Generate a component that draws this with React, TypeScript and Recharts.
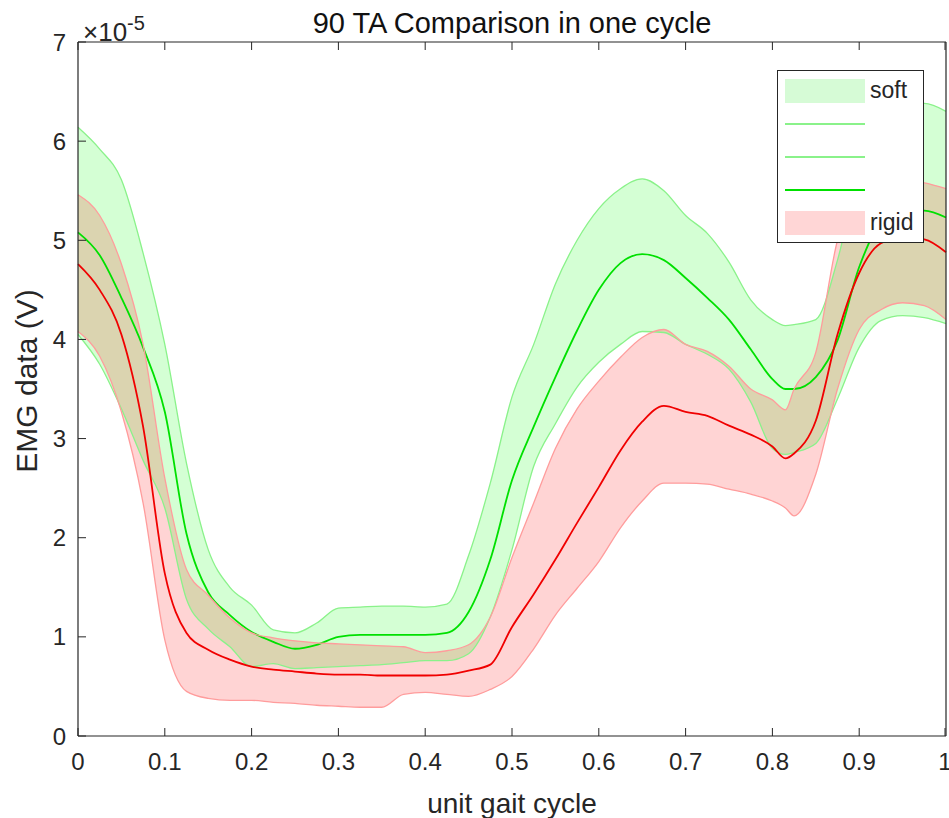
import React from 'react'
import { ComposedChart, Area, Line, XAxis, YAxis, Legend } from 'recharts'

// unit gait cycle (x) and EMG amplitude in units of 1e-5 V
const cycle = [
  0, 0.025, 0.05, 0.075, 0.1, 0.125, 0.15, 0.175, 0.2, 0.225, 0.25, 0.275, 0.3, 0.325, 0.35, 0.375, 0.4, 0.425, 0.45,
  0.475, 0.5, 0.525, 0.55, 0.575, 0.6, 0.625, 0.65, 0.675, 0.7, 0.725, 0.75, 0.775, 0.8, 0.815, 0.825, 0.85, 0.875,
  0.9, 0.925, 0.95, 0.975, 1,
]

const softUpper = [
  6.14, 5.92, 5.61, 4.87, 3.95, 2.75, 1.88, 1.5, 1.32, 1.07, 1.04, 1.14, 1.29, 1.3, 1.31, 1.31, 1.3, 1.33, 1.82, 2.55,
  3.42, 3.95, 4.56, 5.0, 5.32, 5.52, 5.62, 5.5, 5.25, 5.07, 4.78, 4.4, 4.2, 4.14, 4.15, 4.2, 4.8, 5.7, 6.2, 6.35, 6.38,
  6.3,
]
const softMean = [
  5.08, 4.85, 4.42, 3.92, 3.27, 2.04, 1.45, 1.22, 1.05, 0.95, 0.88, 0.92, 1.0, 1.02, 1.02, 1.02, 1.02, 1.04, 1.25, 1.78,
  2.58, 3.12, 3.62, 4.09, 4.5, 4.77, 4.86, 4.8, 4.62, 4.42, 4.2, 3.9, 3.6, 3.5, 3.5, 3.62, 3.99, 4.73, 5.17, 5.26, 5.3,
  5.23,
]
const softLower = [
  4.05, 3.75, 3.3, 2.78, 2.3, 1.38, 1.08, 0.9, 0.7, 0.73, 0.68, 0.69, 0.7, 0.71, 0.72, 0.74, 0.76, 0.76, 0.83, 1.2,
  1.88, 2.72, 3.15, 3.52, 3.77, 3.95, 4.08, 4.07, 3.95, 3.85, 3.7, 3.37, 2.9, 2.84, 2.86, 2.95, 3.4, 3.92, 4.19, 4.24,
  4.22, 4.16,
]

const rigidUpper = [
  5.46, 5.25, 4.76, 3.95, 2.6, 1.68, 1.42, 1.19, 1.04, 0.99, 0.96, 0.94, 0.93, 0.92, 0.91, 0.9, 0.84, 0.86, 0.92, 1.2,
  1.8, 2.35, 2.9, 3.3, 3.58, 3.82, 4.02, 4.1, 3.95, 3.88, 3.73, 3.5, 3.39, 3.29, 3.5, 3.87, 5.0, 5.5, 5.58, 5.6, 5.58,
  5.52,
]
const rigidMean = [
  4.76, 4.5, 4.05, 3.12, 1.64, 1.04, 0.87, 0.77, 0.7, 0.67, 0.65, 0.63, 0.62, 0.62, 0.61, 0.61, 0.61, 0.62, 0.66, 0.72,
  1.1, 1.43, 1.78, 2.15, 2.51, 2.88, 3.17, 3.33, 3.27, 3.23, 3.13, 3.04, 2.92, 2.8, 2.85, 3.18, 4.05, 4.67, 4.97, 5.03,
  5.01, 4.88,
]
const rigidLower = [
  4.08, 3.83, 3.27, 2.35, 0.97, 0.45, 0.38, 0.36, 0.36, 0.34, 0.33, 0.31, 0.3, 0.29, 0.29, 0.42, 0.44, 0.42, 0.4, 0.47,
  0.6, 0.88, 1.22, 1.49, 1.76, 2.1, 2.37, 2.55, 2.55, 2.54, 2.49, 2.44, 2.37, 2.3, 2.22, 2.64, 3.5, 4.1, 4.3, 4.37,
  4.34, 4.2,
]

const xTicks = [0, 0.1, 0.2, 0.3, 0.4, 0.5, 0.6, 0.7, 0.8, 0.9, 1]
const yTicks = [0, 1, 2, 3, 4, 5, 6, 7]

const GREEN = '#00ff00'
const GREEN_EDGE = '#8af28a'
const GREEN_LINE = '#00e000'
const RED = '#ff0000'
const RED_EDGE = '#ff9c9c'
const RED_LINE = '#f00000'
const INK = '#262626'
const FONT = '"Liberation Sans", Arial, Helvetica, sans-serif'
const TICK_LEN = 8
const TICK_FONT = 24

const legendItems = [
  { label: 'soft', kind: 'patch', color: '#d6fbd6' },
  { label: '', kind: 'line', color: GREEN_EDGE },
  { label: '', kind: 'line', color: GREEN_EDGE },
  { label: '', kind: 'mean', color: GREEN_LINE },
  { label: 'rigid', kind: 'patch', color: '#ffd6d6' },
]

const data = cycle.map((t, i) => ({
  t,
  softBand: [softLower[i], softUpper[i]],
  softUpper: softUpper[i],
  softMean: softMean[i],
  softLower: softLower[i],
  rigidBand: [rigidLower[i], rigidUpper[i]],
  rigidUpper: rigidUpper[i],
  rigidMean: rigidMean[i],
  rigidLower: rigidLower[i],
}))

function BottomTick({ x, y, payload }: any) {
  return (
    <g>
      <line x1={x} x2={x} y1={y - 17} y2={y - 17 - TICK_LEN} stroke={INK} />
      <text x={x} y={y} dy="0.71em" textAnchor="middle" fontSize={TICK_FONT} fill={INK} fontFamily={FONT}>
        {payload.value}
      </text>
    </g>
  )
}

function LeftTick({ x, y, payload }: any) {
  return (
    <g>
      <line x1={x + 12} x2={x + 12 + TICK_LEN} y1={y} y2={y} stroke={INK} />
      <text x={x} y={y} dy="0.36em" textAnchor="end" fontSize={TICK_FONT} fill={INK} fontFamily={FONT}>
        {payload.value}
      </text>
    </g>
  )
}

function TopTick({ x, y }: any) {
  return <line x1={x} x2={x} y1={y} y2={y + TICK_LEN} stroke={INK} />
}

function RightTick({ x, y }: any) {
  return <line x1={x} x2={x - TICK_LEN} y1={y} y2={y} stroke={INK} />
}

function TitleLabel({ viewBox }: any) {
  const { x, y, width } = viewBox
  return (
    <g fontFamily={FONT}>
      <text x={x + width / 2} y={y - 8} textAnchor="middle" fontSize={29} fill="#111">
        90 TA Comparison in one cycle
      </text>
      <text x={x + 5} y={y} fontSize={26} fill={INK}>
        ×10
        <tspan dy={-11} fontSize={20}>
          -5
        </tspan>
      </text>
    </g>
  )
}

function XTitle({ viewBox }: any) {
  const { x, y, width } = viewBox
  return (
    <text x={x + width / 2} y={y + 77} textAnchor="middle" fontSize={28} fill={INK} fontFamily={FONT}>
      unit gait cycle
    </text>
  )
}

function YTitle({ viewBox }: any) {
  const { x, y, height } = viewBox
  const cx = x + 9
  const cy = y + height / 2 - 8
  return (
    <text
      x={cx}
      y={cy}
      transform={`rotate(-90 ${cx} ${cy})`}
      textAnchor="middle"
      fontSize={30}
      fill={INK}
      fontFamily={FONT}
    >
      EMG data (V)
    </text>
  )
}

function LegendBox() {
  return (
    <div
      style={{
        width: 145,
        height: 168,
        border: `1px solid ${INK}`,
        background: '#fff',
        paddingTop: 3,
        fontFamily: FONT,
        fontSize: 23,
        color: INK,
      }}
    >
      {legendItems.map((item, i) => (
        <div key={i} style={{ display: 'flex', alignItems: 'center', height: 33 }}>
          <div
            style={{
              marginLeft: 7,
              width: 80,
              height: item.kind === 'patch' ? 24 : 2,
              background: item.color,
            }}
          />
          <span style={{ marginLeft: 5 }}>{item.label}</span>
        </div>
      ))}
    </div>
  )
}

export default function App() {
  return (
    <div style={{ position: 'absolute', left: 0, top: 0, background: '#fff' }}>
      <ComposedChart width={949} height={818} data={data} margin={{ top: 41, right: 2, bottom: 32, left: 28 }}>
        <XAxis
          dataKey="t"
          type="number"
          domain={[0, 1]}
          ticks={xTicks}
          tick={<BottomTick />}
          tickSize={0}
          tickMargin={17}
          tickLine={false}
          axisLine={{ stroke: INK, strokeWidth: 1.2 }}
          height={50}
          label={<XTitle />}
        />
        <XAxis
          xAxisId="top"
          orientation="top"
          dataKey="t"
          type="number"
          domain={[0, 1]}
          ticks={xTicks}
          tick={<TopTick />}
          tickSize={0}
          tickMargin={0}
          tickLine={false}
          axisLine={{ stroke: INK, strokeWidth: 1.2 }}
          height={1}
          label={<TitleLabel />}
        />
        <YAxis
          type="number"
          domain={[0, 7]}
          ticks={yTicks}
          tick={<LeftTick />}
          tickSize={0}
          tickMargin={12}
          tickLine={false}
          axisLine={{ stroke: INK, strokeWidth: 1.2 }}
          width={50}
          label={<YTitle />}
        />
        <YAxis
          yAxisId="right"
          orientation="right"
          type="number"
          domain={[0, 7]}
          ticks={yTicks}
          tick={<RightTick />}
          tickSize={0}
          tickMargin={0}
          tickLine={false}
          axisLine={{ stroke: INK, strokeWidth: 1.2 }}
          width={1}
        />

        <Area
          dataKey="softBand"
          type="monotone"
          fill={GREEN}
          fillOpacity={0.17}
          stroke="none"
          activeDot={false}
          isAnimationActive={false}
        />
        <Line dataKey="softUpper" type="monotone" stroke={GREEN_EDGE} strokeWidth={1.3} dot={false} activeDot={false} isAnimationActive={false} />
        <Line dataKey="softLower" type="monotone" stroke={GREEN_EDGE} strokeWidth={1.3} dot={false} activeDot={false} isAnimationActive={false} />
        <Line dataKey="softMean" type="monotone" stroke={GREEN_LINE} strokeWidth={1.8} dot={false} activeDot={false} isAnimationActive={false} />

        <Area
          dataKey="rigidBand"
          type="monotone"
          fill={RED}
          fillOpacity={0.17}
          stroke="none"
          activeDot={false}
          isAnimationActive={false}
        />
        <Line dataKey="rigidUpper" type="monotone" stroke={RED_EDGE} strokeWidth={1.3} dot={false} activeDot={false} isAnimationActive={false} />
        <Line dataKey="rigidLower" type="monotone" stroke={RED_EDGE} strokeWidth={1.3} dot={false} activeDot={false} isAnimationActive={false} />
        <Line dataKey="rigidMean" type="monotone" stroke={RED_LINE} strokeWidth={1.8} dot={false} activeDot={false} isAnimationActive={false} />

        <Legend
          layout="horizontal"
          align="center"
          verticalAlign="middle"
          width={147}
          height={170}
          wrapperStyle={{ left: 777, top: 70, width: 147, height: 170 }}
          content={() => <LegendBox />}
        />
      </ComposedChart>
    </div>
  )
}
